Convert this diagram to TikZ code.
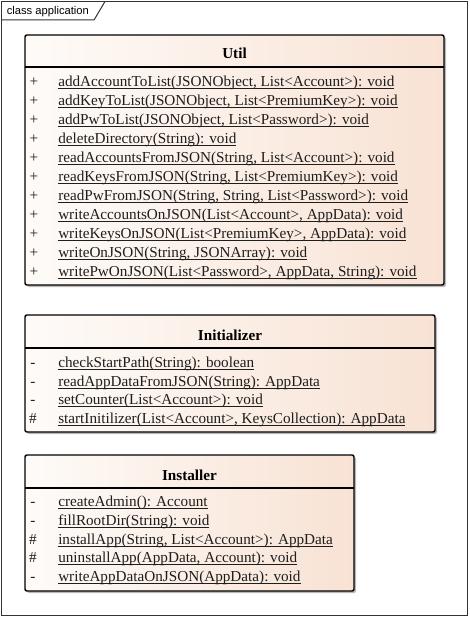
\documentclass[tikz,border=0pt]{standalone}
\usepackage{fontspec}
\setmainfont{Liberation Serif}
\newfontfamily\framefont{Liberation Sans}
\usetikzlibrary{shadows}
\definecolor{classleft}{HTML}{FEFBF8}
\definecolor{classright}{HTML}{F8E2D4}
\definecolor{ink}{HTML}{1E1E1E}
\newcommand{\op}[1]{\setbox0\hbox{#1}\rlap{\rule[-1.9pt]{\wd0}{0.7pt}}\box0}
\tikzset{
  classbox/.style={draw=black, line width=1.1pt, rounded corners=1.5pt, left color=classleft, right color=classright,
    drop shadow={shadow xshift=1.5pt, shadow yshift=-1.5pt, fill=black!50, opacity=.55}},
  vis/.style={anchor=base, inner sep=0pt, text=ink},
  meth/.style={anchor=base west, inner sep=0pt, text=ink},
  cname/.style={anchor=base, inner sep=0pt, font=\fontsize{11.4}{13}\selectfont\bfseries},
}
\begin{document}
\begin{tikzpicture}[x=0.75pt,y=-0.75pt,every node/.style={font=\fontsize{11.4}{13}\selectfont}]
\useasboundingbox (0,0) rectangle (470,617);
\draw[black!80, line width=0.75pt] (1.5,1.5) rectangle (467.5,615.5);
\draw[black!80, line width=0.75pt] (1.5,20) -- (94,20) -- (105,1.5);
\node[anchor=base west, inner sep=0pt, font=\framefont\fontsize{8.4}{10}\selectfont] (frame) at (6.5,14.5) {class application};

\draw[classbox] (25,35) rectangle (444,285);
\draw[line width=1.1pt] (25,67) -- (444,67);
\node[cname] (util) at (234.5,59) {Util};
\node[vis] (u1v) at (34,86.5) {+};
\node[meth] (u1) at (58,86.5) {\op{addAccountToList(JSONObject, List<Account>): void}};
\node[vis] (u2v) at (34,105.5) {+};
\node[meth] (u2) at (58,105.5) {\op{addKeyToList(JSONObject, List<PremiumKey>): void}};
\node[vis] (u3v) at (34,124.5) {+};
\node[meth] (u3) at (58,124.5) {\op{addPwToList(JSONObject, List<Password>): void}};
\node[vis] (u4v) at (34,143.5) {+};
\node[meth] (u4) at (58,143.5) {\op{deleteDirectory(String): void}};
\node[vis] (u5v) at (34,162.5) {+};
\node[meth] (u5) at (58,162.5) {\op{readAccountsFromJSON(String, List<Account>): void}};
\node[vis] (u6v) at (34,181.5) {+};
\node[meth] (u6) at (58,181.5) {\op{readKeysFromJSON(String, List<PremiumKey>): void}};
\node[vis] (u7v) at (34,200.5) {+};
\node[meth] (u7) at (58,200.5) {\op{readPwFromJSON(String, String, List<Password>): void}};
\node[vis] (u8v) at (34,219.5) {+};
\node[meth] (u8) at (58,219.5) {\op{writeAccountsOnJSON(List<Account>, AppData): void}};
\node[vis] (u9v) at (34,238.5) {+};
\node[meth] (u9) at (58,238.5) {\op{writeKeysOnJSON(List<PremiumKey>, AppData): void}};
\node[vis] (u10v) at (34,257.5) {+};
\node[meth] (u10) at (58,257.5) {\op{writeOnJSON(String, JSONArray): void}};
\node[vis] (u11v) at (34,276.5) {+};
\node[meth] (u11) at (58,276.5) {\op{writePwOnJSON(List<Password>, AppData, String): void}};

\draw[classbox] (25,315) rectangle (435,432);
\draw[line width=1.1pt] (25,348) -- (435,348);
\node[cname] (init) at (230,340) {Initializer};
\node[vis] (i1v) at (33,367.5) {-};
\node[meth] (i1) at (58,367.5) {\op{checkStartPath(String): boolean}};
\node[vis] (i2v) at (33,386) {-};
\node[meth] (i2) at (58,386) {\op{readAppDataFromJSON(String): AppData}};
\node[vis] (i3v) at (33,404.5) {-};
\node[meth] (i3) at (58,404.5) {\op{setCounter(List<Account>): void}};
\node[vis] (i4v) at (33,423) {\#};
\node[meth] (i4) at (58,423) {\op{startInitilizer(List<Account>, KeysCollection): AppData}};

\draw[classbox] (25,455) rectangle (354,591);
\draw[line width=1.1pt] (25,488) -- (354,488);
\node[cname] (inst) at (189.5,480) {Installer};
\node[vis] (s1v) at (33,506.5) {-};
\node[meth] (s1) at (58,506.5) {\op{createAdmin(): Account}};
\node[vis] (s2v) at (33,525.3) {-};
\node[meth] (s2) at (58,525.3) {\op{fillRootDir(String): void}};
\node[vis] (s3v) at (33,544) {\#};
\node[meth] (s3) at (58,544) {\op{installApp(String, List<Account>): AppData}};
\node[vis] (s4v) at (33,562.8) {\#};
\node[meth] (s4) at (58,562.8) {\op{uninstallApp(AppData, Account): void}};
\node[vis] (s5v) at (33,581.5) {-};
\node[meth] (s5) at (58,581.5) {\op{writeAppDataOnJSON(AppData): void}};
\end{tikzpicture}
\end{document}
